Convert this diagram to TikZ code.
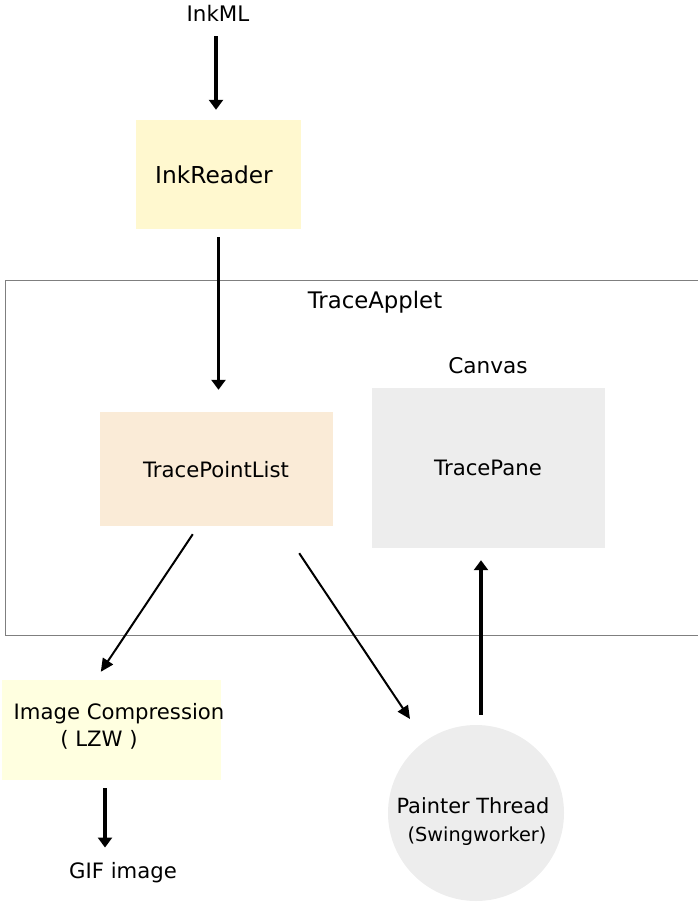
\documentclass[tikz,border=0pt]{standalone}
\usepackage{fontspec}
\setmainfont{DejaVu Sans}
\usetikzlibrary{arrows.meta,calc}

\definecolor{readerfill}{HTML}{FFF8CF}
\definecolor{listfill}{HTML}{FAEBD7}
\definecolor{compfill}{HTML}{FFFFE0}
\definecolor{panefill}{HTML}{EDEDED}
\definecolor{framegray}{HTML}{7F7F7F}

\tikzset{
  txt/.style={inner sep=0pt, font=\fontsize{21.2}{25}\selectfont},
  block/.style={rectangle, draw=none, inner sep=0pt},
  thickarrow/.style={line width=3.2pt, -{Triangle[length=10pt,width=14pt]}},
  thinarrow/.style={line width=2pt, -{Triangle[length=13pt,width=12pt]}},
}

\begin{document}
\begin{tikzpicture}[x=1pt,y=-1pt]
\useasboundingbox (0,0) rectangle (697,902);

% outer applet frame
\node[block, draw=framegray, line width=1.2pt, minimum width=695pt, minimum height=355pt,
      anchor=north west] (applet) at (5,280) {};
\node[txt, font=\fontsize{22.8}{27}\selectfont] (appletlbl) at (375,302) {TraceApplet};
\node[txt, font=\fontsize{21.6}{25}\selectfont] (canvaslbl) at (488,366) {Canvas};

% input and reader
\node[txt, font=\fontsize{21.4}{25}\selectfont] (inkml) at (218,13) {InkML};
\node[block, fill=readerfill, minimum width=165pt, minimum height=109pt]
      (reader) at (218.5,174.5) {};
\node[txt, font=\fontsize{23.3}{27}\selectfont] (readerlbl) at (214,175) {InkReader};

% point list and pane
\node[block, fill=listfill, minimum width=233pt, minimum height=114pt]
      (tpl) at (216.5,469) {};
\node[txt] (tpllbl) at (216,470) {TracePointList};
\node[block, fill=panefill, minimum width=233pt, minimum height=160pt]
      (pane) at (488.5,468) {};
\node[txt] (panelbl) at (488,468) {TracePane};

% compression
\node[block, fill=compfill, minimum width=219pt, minimum height=100pt]
      (comp) at (111.5,730) {};
\node[txt] (complbl1) at (119,714) {Image Compression};
\node[txt] (complbl2) at (99,740) {( LZW )};
\node[txt] (gif) at (123,873) {GIF image};

% painter thread
\node[circle, fill=panefill, draw=none, minimum size=176pt, inner sep=0pt]
      (painter) at (476,813) {};
\node[txt, font=\fontsize{20.9}{25}\selectfont] (painterlbl1) at (473,806) {Painter Thread};
\node[txt, font=\fontsize{19.3}{23}\selectfont] (painterlbl2) at (477,836) {(Swingworker)};

% connectors
\draw[thickarrow, shorten <=15pt, shorten >=10pt]
  ([xshift=-2pt]inkml.south) -- ([xshift=-2pt]inkml.south |- reader.north);
\draw[thickarrow, shorten <=8pt, shorten >=22pt]
  (reader.south) -- (reader.south |- tpl.north);
\draw[thinarrow]
  ($(tpl.south west)+(93,8)$) -- ($(comp.north west)+(99,-8)$);
\draw[thinarrow]
  ($(tpl.south east)+(-34,27)$) -- ($(painter.center)+(-66,-94)$);
\draw[thickarrow, shorten <=10pt, shorten >=12pt]
  ([xshift=5pt]painter.north) -- ([xshift=5pt]painter.north |- pane.south);
\draw[thickarrow, shorten <=8pt, shorten >=15pt]
  ([xshift=-6.5pt]comp.south) -- ([xshift=-6.5pt]comp.south |- gif.north);
\end{tikzpicture}
\end{document}
